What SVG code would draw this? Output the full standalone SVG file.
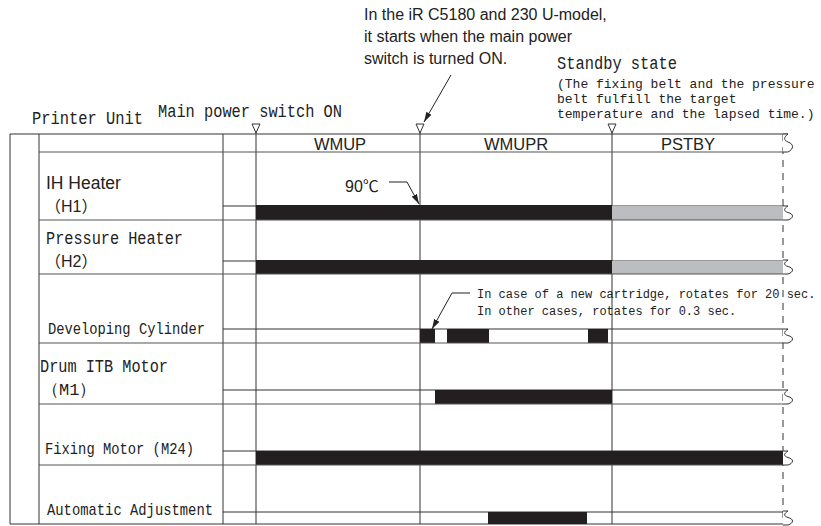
<svg xmlns="http://www.w3.org/2000/svg" width="821" height="526" viewBox="0 0 821 526">
<style>
.ln{stroke:#333;stroke-width:1;fill:none}
.rs{stroke:#555;stroke-width:1.2;fill:none}
.dash{stroke:#333;stroke-width:1;stroke-dasharray:7 6;fill:none}
.blk{fill:#231f20}
.gry{fill:#bcbdc0}
.tri{fill:#fff;stroke:#333;stroke-width:1}
.mono{font-family:"Liberation Mono","DejaVu Sans Mono",monospace;fill:#222}
.sans{font-family:"Liberation Sans","Noto Sans CJK JP",sans-serif;fill:#222}
.arr{stroke:#222;stroke-width:1;fill:none;marker-end:url(#ah)}
.brk{fill:#fff;stroke:#333;stroke-width:1}
</style>
<defs>
<marker id="ah" viewBox="0 0 10 6" refX="10" refY="3" markerWidth="10" markerHeight="6" markerUnits="userSpaceOnUse" orient="auto">
<path d="M0,0 L10,3 L0,6 Z" fill="#222"/>
</marker>
<path id="brk" class="brk" d="M0,0 H5 C1,3 0,6 5,8 C11,10 11,15 5,18 H0"/>
<path id="brk2" class="brk" d="M0,0 H5 C1,2.5 0,5 5,6.5 C11,8 11,12 5,14 H0"/>
</defs>
<rect width="821" height="526" fill="#fff"/>

<g id="frame">
<line class="ln" x1="10" y1="134" x2="788" y2="134"/>
<line class="ln" x1="10" y1="134" x2="10" y2="524"/>
<line class="ln" x1="39" y1="134" x2="39" y2="524"/>
<line class="ln" x1="10" y1="524" x2="783" y2="524"/>
<line class="ln" x1="223" y1="134" x2="223" y2="524"/>
<line class="ln" x1="256" y1="128" x2="256" y2="524"/>
<line class="ln" x1="420" y1="128" x2="420" y2="524"/>
<line class="ln" x1="612" y1="128" x2="612" y2="524"/>
<line class="dash" x1="783" y1="134" x2="783" y2="524"/>
<polygon class="tri" points="252,124 260,124 256,133"/>
<polygon class="tri" points="416,124 424,124 420,133"/>
<polygon class="tri" points="608,124 616,124 612,133"/>
</g>

<g id="header">
<line class="rs" x1="39" y1="152" x2="783" y2="152"/>
<use href="#brk" x="783" y="134"/>
<text class="sans" x="340" y="150" font-size="16.5" text-anchor="middle">WMUP</text>
<text class="sans" x="516" y="150" font-size="16.5" text-anchor="middle">WMUPR</text>
<text class="sans" x="688" y="150" font-size="16.5" text-anchor="middle">PSTBY</text>
</g>

<g id="labels-top">
<text class="mono" x="32" y="124" font-size="19" textLength="111" lengthAdjust="spacingAndGlyphs">Printer Unit</text>
<text class="mono" x="158" y="117" font-size="18" textLength="184" lengthAdjust="spacingAndGlyphs">Main power switch ON</text>
<text class="sans" x="364" y="20" font-size="16">In the iR C5180 and 230 U-model,</text>
<text class="sans" x="364" y="42" font-size="16">it starts when the main power</text>
<text class="sans" x="364" y="64" font-size="16">switch is turned ON.</text>
<text class="mono" x="557" y="69" font-size="18" textLength="120" lengthAdjust="spacingAndGlyphs">Standby state</text>
<text class="mono" x="557" y="88" font-size="13">(The fixing belt and the pressure</text>
<text class="mono" x="557" y="103" font-size="13">belt fulfill the target</text>
<text class="mono" x="557" y="118" font-size="13">temperature and the lapsed time.)</text>
</g>

<g id="row-h1">
<text class="sans" x="46" y="189" font-size="17.5">IH Heater</text>
<text class="sans" x="45" y="212" font-size="16">（H1）</text>
<line class="ln" x1="223" y1="206" x2="783" y2="206"/>
<rect class="blk" x="256" y="205" width="356" height="15"/>
<rect class="gry" x="612" y="206" width="171" height="14"/>
<line class="rs" x1="39" y1="220" x2="783" y2="220"/>
</g>

<g id="row-h2">
<text class="mono" x="46" y="244" font-size="19" textLength="137" lengthAdjust="spacingAndGlyphs">Pressure Heater</text>
<text class="sans" x="45" y="267" font-size="16">（H2）</text>
<line class="ln" x1="223" y1="261" x2="783" y2="261"/>
<rect class="blk" x="256" y="260" width="356" height="14"/>
<rect class="gry" x="612" y="261" width="171" height="13"/>
<line class="rs" x1="39" y1="274" x2="783" y2="274"/>
</g>

<g id="row-dev">
<text class="mono" x="48" y="334" font-size="17" textLength="157" lengthAdjust="spacingAndGlyphs">Developing Cylinder</text>
<line class="ln" x1="223" y1="329" x2="783" y2="329"/>
<rect class="blk" x="420" y="329" width="15" height="14"/>
<rect class="blk" x="447" y="329" width="42" height="14"/>
<rect class="blk" x="588" y="329" width="20" height="14"/>
<line class="rs" x1="39" y1="343" x2="783" y2="343"/>
<text class="mono" x="477" y="298" font-size="12">In case of a new cartridge, rotates for 20 sec.</text>
<text class="mono" x="477" y="315" font-size="12">In other cases, rotates for 0.3 sec.</text>
</g>

<g id="row-m1">
<text class="mono" x="40" y="372" font-size="19" textLength="128" lengthAdjust="spacingAndGlyphs">Drum ITB Motor</text>
<text class="mono" x="42" y="395" font-size="17">（M1）</text>
<line class="ln" x1="223" y1="390" x2="783" y2="390"/>
<rect class="blk" x="435" y="390" width="177" height="14"/>
<line class="rs" x1="39" y1="404" x2="783" y2="404"/>
</g>

<g id="row-m24">
<text class="mono" x="45" y="454" font-size="17" textLength="149" lengthAdjust="spacingAndGlyphs">Fixing Motor (M24)</text>
<line class="ln" x1="223" y1="451" x2="783" y2="451"/>
<rect class="blk" x="256" y="451" width="527" height="14"/>
<line class="rs" x1="39" y1="465" x2="783" y2="465"/>
</g>

<g id="row-auto">
<text class="mono" x="47" y="515" font-size="17" textLength="166" lengthAdjust="spacingAndGlyphs">Automatic Adjustment</text>
<line class="ln" x1="223" y1="512" x2="783" y2="512"/>
<rect class="blk" x="488" y="512" width="99" height="12"/>
</g>

<g id="breaks">
<use href="#brk2" x="783" y="206"/>
<use href="#brk2" x="783" y="260"/>
<use href="#brk2" x="783" y="329"/>
<use href="#brk2" x="783" y="390"/>
<use href="#brk2" x="783" y="451"/>
<use href="#brk2" x="783" y="511"/>
</g>

<g id="connectors">
<line class="arr" x1="451" y1="75" x2="424" y2="122"/>
<polyline class="arr" points="389,182 407,182 419,204"/>
<polyline class="arr" points="470,293 452,293 432,329"/>
</g>
<text class="sans" x="345" y="192" font-size="16">90℃</text>
</svg>
